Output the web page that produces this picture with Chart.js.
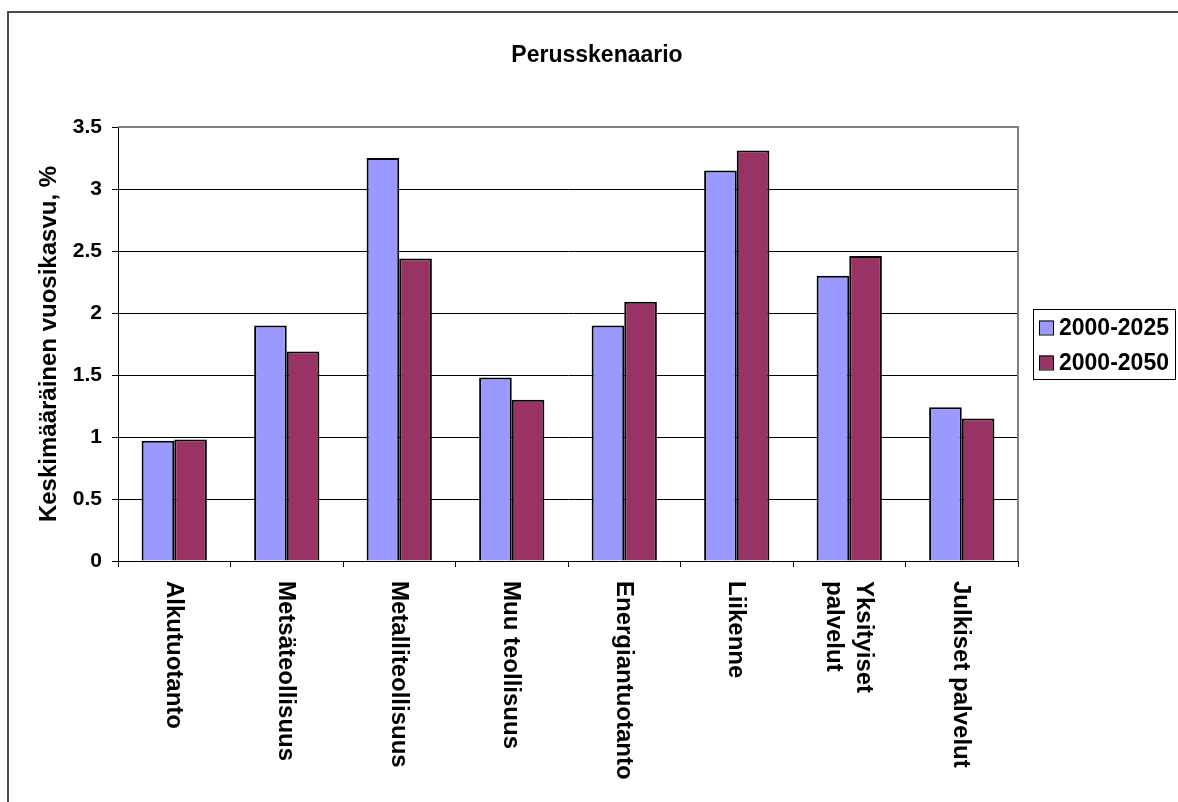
<!DOCTYPE html>
<html>
<head>
<meta charset="utf-8">
<script src="https://cdn.jsdelivr.net/npm/chart.js@4.4.0/dist/chart.umd.min.js"></script>
<style>
  html, body { margin: 0; padding: 0; background: #fff; overflow: hidden; }
  #wrap { position: relative; width: 1178px; height: 802px; }
  #frame { position: absolute; left: 7px; top: 11px; width: 1200px; height: 1000px; border: 2px solid #4a4a4a; box-sizing: border-box; }
  canvas { position: absolute; left: 0; top: 0; }
</style>
</head>
<body>
<div id="wrap">
  <div id="frame"></div>
  <canvas id="chart1" width="1178" height="802"></canvas>
</div>
<script>
// Sector labels (arrays = multi-line label)
const sectors = [
    'Alkutuotanto',
    'Metsäteollisuus',
    'Metalliteollisuus',
    'Muu teollisuus',
    'Energiantuotanto',
    'Liikenne',
    ['Yksityiset', 'palvelut'],
    'Julkiset palvelut'
];
// Average annual growth, %
const growth2025 = [0.97, 1.90, 3.25, 1.48, 1.90, 3.15, 2.30, 1.24];
const growth2050 = [0.98, 1.69, 2.44, 1.30, 2.09, 3.31, 2.46, 1.15];
const seriesNames = ['2000-2025', '2000-2050'];
const chartTitle = 'Perusskenaario';
const yTitle = 'Keskimääräinen vuosikasvu, %';

const FONT = '"Liberation Sans", Arial, sans-serif';

// title, rotated sector labels, legend box and plot frame
const decorations = {
    id: 'decorations',
    beforeDatasetsDraw(chart) {
        const ctx = chart.ctx;
        const a = chart.chartArea;
        ctx.save();
        ctx.strokeStyle = '#808080';
        ctx.lineWidth = 2;
        ctx.beginPath();
        ctx.moveTo(a.left, a.top);
        ctx.lineTo(a.right, a.top);
        ctx.lineTo(a.right, a.bottom);
        ctx.stroke();
        ctx.restore();
    },
    afterDraw(chart) {
        const ctx = chart.ctx;
        const xs = chart.scales.x;
        ctx.save();
        ctx.fillStyle = '#000';

        // title
        ctx.font = 'bold 23px ' + FONT;
        ctx.textAlign = 'center';
        ctx.textBaseline = 'middle';
        ctx.fillText(chartTitle, 597, 56);

        // category labels, reading top to bottom
        ctx.font = 'bold 24px ' + FONT;
        ctx.textAlign = 'left';
        const lh = 30;
        sectors.forEach(function(lbl, i){
            const lines = Array.isArray(lbl) ? lbl : [lbl];
            const x = xs.getPixelForValue(i);
            ctx.save();
            ctx.translate(x - 1, 581);
            ctx.rotate(Math.PI / 2);
            lines.forEach(function(t, k){
                ctx.fillText(t, 0, -(lines.length - 1) * lh / 2 + k * lh);
            });
            ctx.restore();
        });

        // legend
        const lx = 1033, ly = 309, lw = 142, lhgt = 70;
        ctx.fillStyle = '#fff';
        ctx.fillRect(lx, ly, lw, lhgt);
        ctx.strokeStyle = '#000';
        ctx.lineWidth = 1;
        ctx.strokeRect(lx + 0.5, ly + 0.5, lw, lhgt);
        ctx.font = 'bold 23px ' + FONT;
        ctx.textBaseline = 'middle';
        chart.data.datasets.forEach(function(ds, i){
            const cy = 327.5 + i * 35;
            ctx.fillStyle = ds.backgroundColor;
            ctx.fillRect(1039, cy - 7, 14, 14);
            ctx.strokeRect(1039.5, cy - 6.5, 14, 14);
            ctx.fillStyle = '#000';
            ctx.fillText(ds.label, 1059, cy + 1);
        });
        ctx.restore();
    }
};

const ctx1 = document.getElementById('chart1').getContext('2d');
const chart = new Chart(ctx1, {
    type: 'bar',
    data: {
        labels: sectors,
        datasets: [{
            label: seriesNames[0],
            data: growth2025,
            backgroundColor: '#9999FF',
            borderColor: '#000',
            borderWidth: 2
        },
        {
            label: seriesNames[1],
            data: growth2050,
            backgroundColor: '#993366',
            borderColor: '#000',
            borderWidth: 2
        }]
    },
    options: {
        responsive: false,
        animation: false,
        devicePixelRatio: 1,
        layout: {padding: {left: 0, right: 160, top: 127, bottom: 0}},
        plugins: {
            legend: {display: false},
            title: {display: false},
            tooltip: {enabled: false}
        },
        datasets: {
            bar: {categoryPercentage: 0.58, barPercentage: 1}
        },
        scales: {
            x: {
                ticks: {display: false},
                grid: {
                    drawOnChartArea: false,
                    drawTicks: true,
                    tickLength: 6,
                    color: '#000'
                },
                border: {color: '#000', width: 1},
                afterFit: function(scale){ scale.height = 241; }
            },
            y: {
                min: 0,
                max: 3.5,
                ticks: {
                    stepSize: 0.5,
                    color: '#000',
                    padding: 10,
                    font: {family: FONT, size: 21, weight: 'bold'},
                    callback: function(v){ return String(v); }
                },
                grid: {
                    color: function(c){ return c.tick && c.tick.value === 3.5 ? '#808080' : '#000'; },
                    tickColor: '#000',
                    tickLength: 6,
                    lineWidth: 1
                },
                border: {color: '#000', width: 1},
                title: {
                    display: true,
                    text: yTitle,
                    color: '#000',
                    padding: {top: 35, bottom: 0},
                    font: {family: FONT, size: 24, weight: 'bold'}
                },
                afterFit: function(scale){ scale.width = 118; }
            }
        }
    },
    plugins: [decorations]
});
</script>
</body>
</html>
